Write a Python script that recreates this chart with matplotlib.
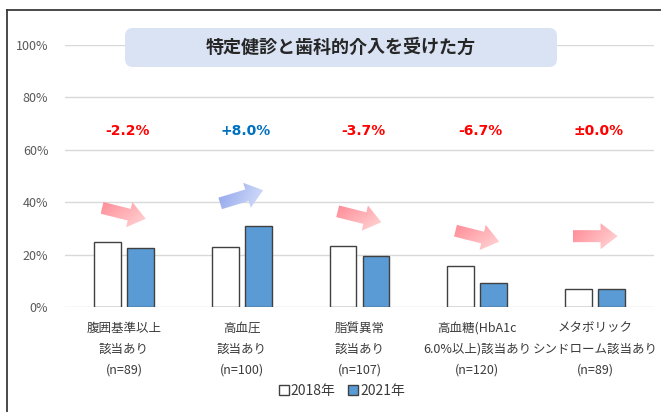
import numpy as np
import matplotlib
matplotlib.use('Agg')
import matplotlib.pyplot as plt
from matplotlib.patches import Polygon, Patch, FancyBboxPatch
from matplotlib.lines import Line2D
from matplotlib.transforms import IdentityTransform

plt.rcParams['font.family'] = ['Noto Sans CJK JP', 'DejaVu Sans']

# データ
line1 = ['腹囲基準以上', '高血圧', '脂質異常', '高血糖(HbA1c', 'メタボリック']
line2 = ['該当あり', '該当あり', '該当あり', '6.0%以上)該当あり', 'シンドローム該当あり']
n_values = [89, 100, 107, 120, 89]
y2018 = [24.7, 23.0, 23.4, 15.8, 6.7]
y2021 = [22.5, 31.0, 19.6, 9.2, 6.7]
changes = ['-2.2%', '+8.0%', '-3.7%', '-6.7%', '±0.0%']
yticks = [0, 20, 40, 60, 80, 100]
title = '特定健診と歯科的介入を受けた方'

W, H = 661, 412
fig = plt.figure(figsize=(W / 100, H / 100), dpi=100)
ax = fig.add_axes([65 / W, (H - 307) / H, (654 - 65) / W, (307 - 44.7) / H])

x = np.arange(len(line1))
bw = 0.229
off = 0.14
ax.bar(x - off, y2018, bw, color='white', edgecolor='#404040', linewidth=1, zorder=3)
ax.bar(x + off, y2021, bw, color='#5B9BD5', edgecolor='#404040', linewidth=1, zorder=3)

ax.set_xlim(-0.5, len(line1) - 0.5)
ax.set_ylim(0, 100)
ax.set_yticks(yticks, [f'{v}%' for v in yticks])
ax.set_xticks([])
ax.tick_params(axis='y', length=0, pad=12, labelsize=9, labelcolor='#595959')
ax.grid(axis='y', color='#d9d9d9', linewidth=1, zorder=0)
ax.set_axisbelow(True)
for s in ax.spines.values():
    s.set_visible(False)

# 変化率
for i, c in enumerate(changes):
    col = '#0070C0' if c.startswith('+') else '#FF0000'
    ax.text(i + 0.03, 67, c, ha='center', va='center', fontsize=10,
            fontweight='bold', color=col, family=['DejaVu Sans'])

# 矢印（グラデーション）
def grad_arrow(i, yc, ang, c_strong, c_light):
    cx, cy = ax.transData.transform((i, yc))
    shape = np.array([(-22.5, -6), (5.5, -6), (5.5, -13), (22.5, 0),
                      (5.5, 13), (5.5, 6), (-22.5, 6)])
    a = np.deg2rad(ang)
    R = np.array([[np.cos(a), -np.sin(a)], [np.sin(a), np.cos(a)]])
    pix = shape @ R.T + [cx, cy]
    inv = ax.transData.inverted()
    dpts = inv.transform(pix)
    poly = Polygon(dpts, closed=True, facecolor='none', edgecolor='none')
    ax.add_patch(poly)
    x0, y0 = pix.min(axis=0)
    x1, y1 = pix.max(axis=0)
    n = 80
    gx, gy = np.meshgrid(np.linspace(x0, x1, n), np.linspace(y0, y1, n))
    g = np.deg2rad(ang - 40)
    t = ((gx - cx) * np.cos(g) + (gy - cy) * np.sin(g)) / 45 + 0.45
    t = np.clip(t, 0, 1)[..., None]
    img = np.array(c_strong) * (1 - t) + np.array(c_light) * t
    (dx0, dy0), (dx1, dy1) = inv.transform([(x0, y0), (x1, y1)])
    im = ax.imshow(img, extent=[dx0, dx1, dy0, dy1], origin='lower',
                   aspect='auto', interpolation='bilinear', zorder=4)
    im.set_clip_path(poly)

red_s, red_l = (1.0, 0.56, 0.6, 1), (1.0, 0.85, 0.85, 1)
blue_s, blue_l = (0.6, 0.67, 0.93, 1), (0.84, 0.88, 0.98, 1)
for i in range(len(line1)):
    d = y2021[i] - y2018[i]
    yc = max(max(y2018[i], y2021[i]) + 11, 27)
    if d > 0.05:
        grad_arrow(i, yc, 17, blue_s, blue_l)
    elif d < -0.05:
        grad_arrow(i, yc, -14, red_s, red_l)
    else:
        grad_arrow(i, yc, 0, red_s, red_l)
ax.set_xlim(-0.5, len(line1) - 0.5)
ax.set_ylim(0, 100)

# カテゴリラベル
for i in range(len(line1)):
    for k, t in enumerate([line1[i], line2[i], f'(n={n_values[i]})']):
        ax.annotate(t, xy=(i, H - 328 - 21 * k), xycoords=('data', 'figure pixels'),
                    ha='center', va='center', fontsize=9, color='#3b3b3b',
                    annotation_clip=False)

# タイトル
box = FancyBboxPatch((125, H - 67), 432, 39, boxstyle='round,pad=0,rounding_size=8',
                     transform=IdentityTransform(), facecolor='#DAE3F3',
                     edgecolor='none', zorder=5)
fig.add_artist(box)
fig.text(341 / W, (H - 47.5) / H, title, ha='center', va='center', fontsize=13,
         fontweight='bold', color='#262626', zorder=6)

# 枠線
fig.add_artist(Line2D([7 / W, 7 / W], [0, (H - 10) / H], color='#3a3a3a', lw=1.3))
fig.add_artist(Line2D([7 / W, 1], [(H - 10) / H, (H - 10) / H], color='#3a3a3a', lw=1.3))

# 凡例
handles = [Patch(facecolor='white', edgecolor='#404040', lw=1),
           Patch(facecolor='#5B9BD5', edgecolor='#404040', lw=1)]
fig.legend(handles, ['2018年', '2021年'], loc='center', bbox_to_anchor=(342 / W, (H - 391) / H),
           ncol=2, frameon=False, handlelength=0.7, handleheight=0.7,
           handletextpad=0.15, columnspacing=0.9, fontsize=10, labelcolor='#3b3b3b')

fig.savefig('out.png', dpi=100)
